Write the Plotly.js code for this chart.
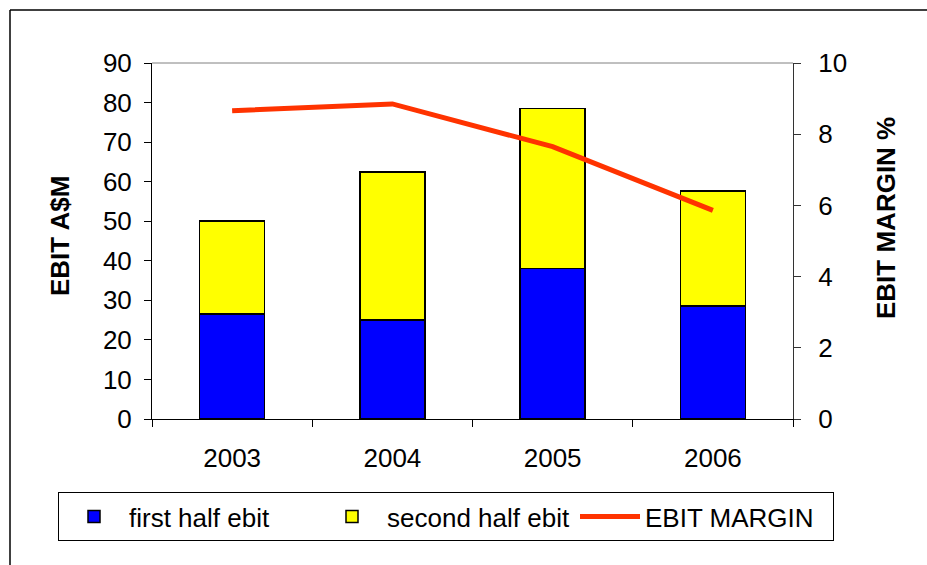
<!DOCTYPE html>
<html>
<head>
<meta charset="utf-8">
<script src="https://cdn.plot.ly/plotly-3.0.1.min.js"></script>
<style>html,body{margin:0;padding:0;background:#fff;}#chart{width:927px;height:565px;}</style>
</head>
<body>
<div id="chart"></div>
<script>
var years = ['2003', '2004', '2005', '2006'];
var firstHalf = [26.5, 25.0, 38.0, 28.6];
var secondHalf = [23.5, 37.4, 40.5, 29.0];
var ebitMargin = [8.66, 8.85, 7.65, 5.86];

var W = 927, H = 565;
var L = 152, R = 134, T = 63, B = 146;
var pw = W - L - R, ph = H - T - B;
function px(x) { return (x - L) / pw; }
function py(y) { return (H - B - y) / ph; }

var FONT = 'Liberation Sans, Arial, sans-serif';

var traces = [
  { type: 'bar', name: 'first half ebit', x: years, y: firstHalf,
    marker: { color: '#0000FF', line: { color: '#000000', width: 1.5 } }, yaxis: 'y' },
  { type: 'bar', name: 'second half ebit', x: years, y: secondHalf,
    marker: { color: '#FFFF00', line: { color: '#000000', width: 1.5 } }, yaxis: 'y' },
  { type: 'scatter', mode: 'lines', name: 'EBIT MARGIN', x: years, y: ebitMargin,
    line: { color: '#FF3300', width: 5 }, yaxis: 'y2' }
];

var layout = {
  width: W, height: H,
  margin: { l: L, r: R, t: T, b: B, pad: 0 },
  paper_bgcolor: '#ffffff', plot_bgcolor: '#ffffff',
  font: { family: FONT, size: 26, color: '#000000' },
  barmode: 'stack',
  bargap: 0.595,
  showlegend: true,
  xaxis: {
    type: 'category', tickson: 'boundaries', ticks: 'outside', ticklen: 7,
    tickcolor: '#000', showline: true, linecolor: '#000', linewidth: 1,
    showgrid: false, zeroline: false, ticklabelstandoff: 16,
    tickfont: { family: FONT, size: 26 }
  },
  yaxis: {
    range: [0, 90], dtick: 10, ticks: 'outside', ticklen: 7, tickcolor: '#000',
    showline: true, linecolor: '#000', linewidth: 1, showgrid: false, zeroline: false,
    ticklabelstandoff: 7, tickfont: { family: FONT, size: 26 }
  },
  yaxis2: {
    range: [0, 10], dtick: 2, overlaying: 'y', side: 'right', ticks: 'outside', ticklen: 7,
    tickcolor: '#333', showline: true, linecolor: '#333', linewidth: 1, showgrid: false,
    zeroline: false, ticklabelstandoff: 12, tickfont: { family: FONT, size: 26 }
  },
  legend: {
    orientation: 'h', x: px(58), y: py(492), xanchor: 'left', yanchor: 'top',
    bgcolor: '#ffffff', bordercolor: '#000000', borderwidth: 1,
    font: { family: FONT, size: 26 }, traceorder: 'normal',
    itemwidth: 60, entrywidth: 183, entrywidthmode: 'pixels'
  },
  annotations: [
    { text: '<b>EBIT A$M</b>', xref: 'paper', yref: 'paper', x: px(60), y: py(236),
      xanchor: 'center', yanchor: 'middle',
      textangle: -90, showarrow: false, font: { family: FONT, size: 26 } },
    { text: '<b>EBIT MARGIN %</b>', xref: 'paper', yref: 'paper', x: px(886), y: py(218),
      xanchor: 'center', yanchor: 'middle',
      textangle: -90, showarrow: false, font: { family: FONT, size: 26 } }
  ],
  shapes: [
    { type: 'line', xref: 'paper', yref: 'paper', x0: 0, x1: 1, y0: 1, y1: 1,
      line: { color: '#808080', width: 1 } },
    { type: 'line', xref: 'paper', yref: 'paper', x0: px(10), x1: px(940), y0: py(10), y1: py(10),
      line: { color: '#000000', width: 1.5 } },
    { type: 'line', xref: 'paper', yref: 'paper', x0: px(10), x1: px(10), y0: py(10), y1: py(580),
      line: { color: '#000000', width: 1.5 } }
  ]
};

Plotly.newPlot('chart', traces, layout, { displayModeBar: false, staticPlot: true });
</script>
</body>
</html>
